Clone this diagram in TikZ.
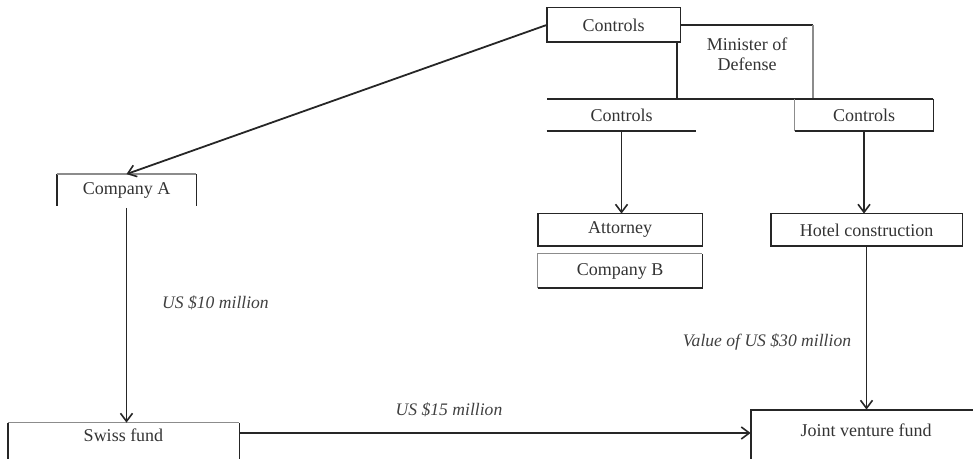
\documentclass[tikz,border=0pt]{standalone}
\usepackage{fontspec}
\setmainfont{Liberation Serif}
\usetikzlibrary{arrows.meta}
\newcommand\pxu{*0.5pt}
\begin{document}
\begin{tikzpicture}[x=0.5pt,y=-0.5pt,
  every node/.style={font=\fontsize{9}{10}\selectfont, text=black!80, inner sep=0pt},
  ln/.style={draw=black!85, line width=0.9pt},
  lt/.style={draw=black!45, line width=0.7pt},
  arr/.style={ln, -{Straight Barb[length=4pt,width=6pt,line width=0.8pt]}},
  lbl/.style={font=\fontsize{8.8}{10}\selectfont\itshape, text=black!75},
  boxn/.style={minimum height=32\pxu}]
\useasboundingbox (0,0) rectangle (973,459);
\clip (0,0) rectangle (973,459);
% nodes
\node[boxn, minimum width=133\pxu, minimum height=34\pxu] (ctrlTop) at (613.5,25) {Controls};
\node[align=center] (min) at (747,54) {Minister of\\Defense};
\node[boxn, minimum width=149\pxu] (ctrlL) at (621.5,115) {Controls};
\node[boxn, minimum width=138\pxu] (ctrlR) at (864,115) {Controls};
\node[boxn, minimum width=164\pxu] (att) at (620,230) {Attorney};
\node[boxn, minimum width=164\pxu, minimum height=34\pxu] (compB) at (620,271) {Company B};
\node[boxn, minimum width=191\pxu] (hotel) at (866.5,230) {Hotel construction};
\node[minimum width=139\pxu, minimum height=31\pxu] (compA) at (126.5,190) {Company A};
\node[minimum width=231\pxu, minimum height=24\pxu] (swiss) at (123.5,435) {Swiss fund};
\node[minimum width=230\pxu, minimum height=40\pxu] (jbox) at (866,430) {Joint venture fund};
% boxes
\draw[ln] (ctrlTop.north west) rectangle (ctrlTop.south east);
\draw[ln] (ctrlTop.north east |- 0,25) -- (813,25);
\draw[lt] (813,25) -- (813,99);
\draw[ln] (677,42) -- (677,99);
\draw[ln] (547,99) -- (933,99);
\draw[ln] (ctrlL.south west) -- (ctrlL.south east);
\draw[ln] (ctrlR.north east) -- (ctrlR.south east) -- (ctrlR.south west);
\draw[lt] (ctrlR.south west) -- (ctrlR.north west);
\draw[ln] (att.north west) rectangle (att.south east);
\draw[ln] (compB.south west) -- (compB.south east) -- (compB.north east);
\draw[lt] (compB.south west) -- (compB.north west) -- (compB.north east);
\draw[ln] (hotel.north west) rectangle (hotel.south east);
\draw[ln] (compA.south west) -- (compA.north west);
\draw[ln] (compA.south east) -- (compA.north east);
\draw[lt] (compA.north west) -- (compA.north east);
\draw[ln] ([yshift=-10pt]swiss.south west) -- (swiss.north west);
\draw[ln] ([yshift=-10pt]swiss.south east) -- (swiss.north east);
\draw[lt] (swiss.north west) -- (swiss.north east);
\draw[ln] ([yshift=-20pt]jbox.south west) -- (jbox.north west) -- (jbox.north east);
% connectors
\draw[arr] (ctrlTop.west) -- (compA.north);
\draw[arr] (ctrlL.south) -- (ctrlL.south |- att.north);
\draw[arr] (ctrlR.south) -- (ctrlR.south |- hotel.north);
\draw[arr] (hotel.south) -- (hotel.south |- jbox.north);
\draw[arr] ([yshift=-1pt]compA.south) -- (compA.south |- swiss.north);
\draw[arr] ([yshift=1pt]swiss.east) -- ([yshift=1pt]swiss.east -| jbox.west);
% labels
\node[lbl] (l10) at (215.5,303) {US \$10 million};
\node[lbl] (l15) at (449,410) {US \$15 million};
\node[lbl] (l30) at (767,342) {Value of US \$30 million};
\end{tikzpicture}
\end{document}
